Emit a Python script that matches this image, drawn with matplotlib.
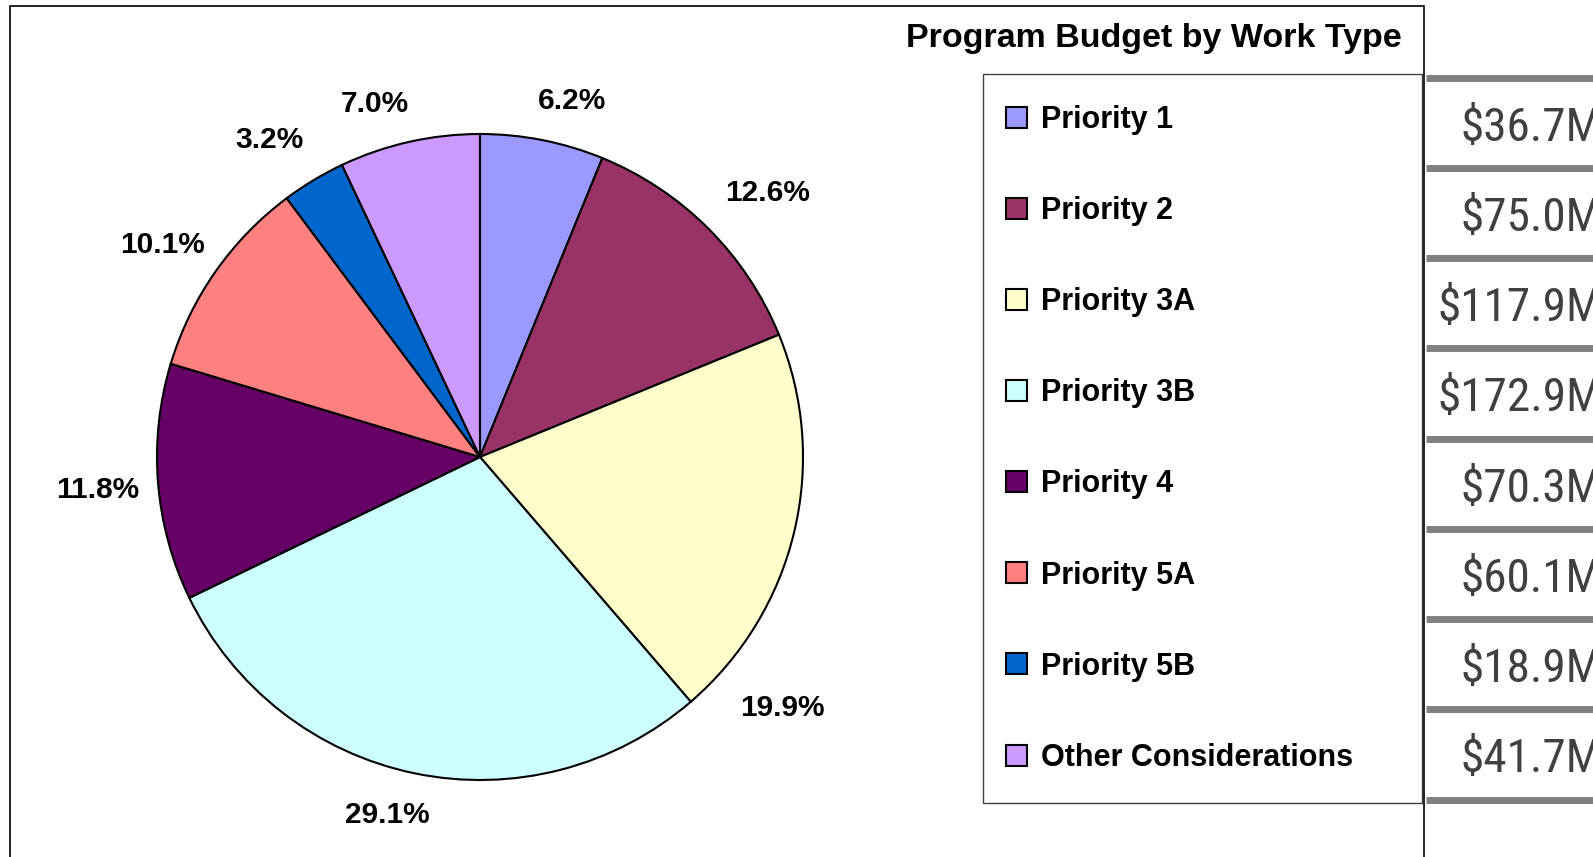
import matplotlib
matplotlib.use("Agg")
import matplotlib.pyplot as plt
from matplotlib import font_manager
from matplotlib.patches import Rectangle

# data
categories = ["Priority 1", "Priority 2", "Priority 3A", "Priority 3B",
              "Priority 4", "Priority 5A", "Priority 5B", "Other Considerations"]
budget_m = [36.7, 75.0, 117.9, 172.9, 70.3, 60.1, 18.9, 41.7]
colors = ["#9999FF", "#993366", "#FFFFCC", "#CCFFFF",
          "#660066", "#FF8080", "#0066CC", "#CC99FF"]
title = "Program Budget by Work Type"

# label centres in pie-radius units (layout only)
label_pos = [(0.285, 1.103), (0.889, 0.817), (0.936, -0.777), (-0.288, -1.108),
             (-1.184, -0.101), (-0.983, 0.657), (-0.653, 0.981), (-0.325, 1.094)]

W, H = 1593, 857


def Y(y):
    # pixel row from the top -> axes y
    return H - y


def pick_font(names):
    for n in names:
        try:
            font_manager.findfont(n, fallback_to_default=False)
            return n
        except Exception:
            pass
    return "DejaVu Sans"


bold_font = pick_font(["Liberation Sans", "Arial"])
narrow_font = pick_font(["Liberation Sans Narrow", "Roboto Condensed", "Liberation Sans"])

fig = plt.figure(figsize=(W / 100, H / 100), dpi=100, facecolor="white")
ax = fig.add_axes([0, 0, 1, 1])

# pie
cx, cy, r = 480, 457, 323
wedges, _, pcts = ax.pie(budget_m, colors=colors, startangle=90, counterclock=False,
                         center=(cx, Y(cy)), radius=r, autopct="%1.1f%%",
                         wedgeprops=dict(edgecolor="black", linewidth=1.5),
                         textprops=dict(fontsize=21.5, fontweight="bold", family=bold_font))
for t, (px, py) in zip(pcts, label_pos):
    t.set_position((cx + px * r, Y(cy) + py * r))
    t.set_ha("center")
    t.set_va("center")

ax.set_xlim(0, W)
ax.set_ylim(0, H)
ax.set_aspect("auto")
ax.axis("off")

# outer frame (no bottom edge visible)
ax.plot([10, 10, 1424, 1424], [Y(857), Y(6), Y(6), Y(857)], color="black", lw=1.2,
        solid_joinstyle="miter")

# title
ax.text(1154, Y(38), title, ha="center", va="center", fontsize=24.5,
        fontweight="bold", family=bold_font)

# legend box
ax.add_patch(Rectangle((983, Y(803)), 1422 - 983, 803 - 74, fill=False,
                       edgecolor="#404040", lw=1.0))
ax.legend(wedges, categories, loc="upper left", frameon=False,
          bbox_to_anchor=(1006 / W, Y(105) / H), borderpad=0, borderaxespad=0,
          handlelength=0.68, handleheight=0.68, handletextpad=0.45,
          labelspacing=2.0,
          prop=dict(size=22, weight="bold", family=bold_font))

# value column
row_top, row_h = 77.5, 90.25
for i in range(len(budget_m) + 1):
    ax.plot([1426, W], [Y(row_top + i * row_h)] * 2, color="#808080", lw=5,
            solid_capstyle="butt")
for i, v in enumerate(budget_m):
    yc = row_top + (i + 0.5) * row_h
    ax.text(1602, Y(yc + 18), f"${v:.1f}M", ha="right", va="baseline",
            fontsize=34, color="#404040", family=narrow_font, clip_on=False)

fig.savefig("out.png", dpi=100, facecolor="white")
